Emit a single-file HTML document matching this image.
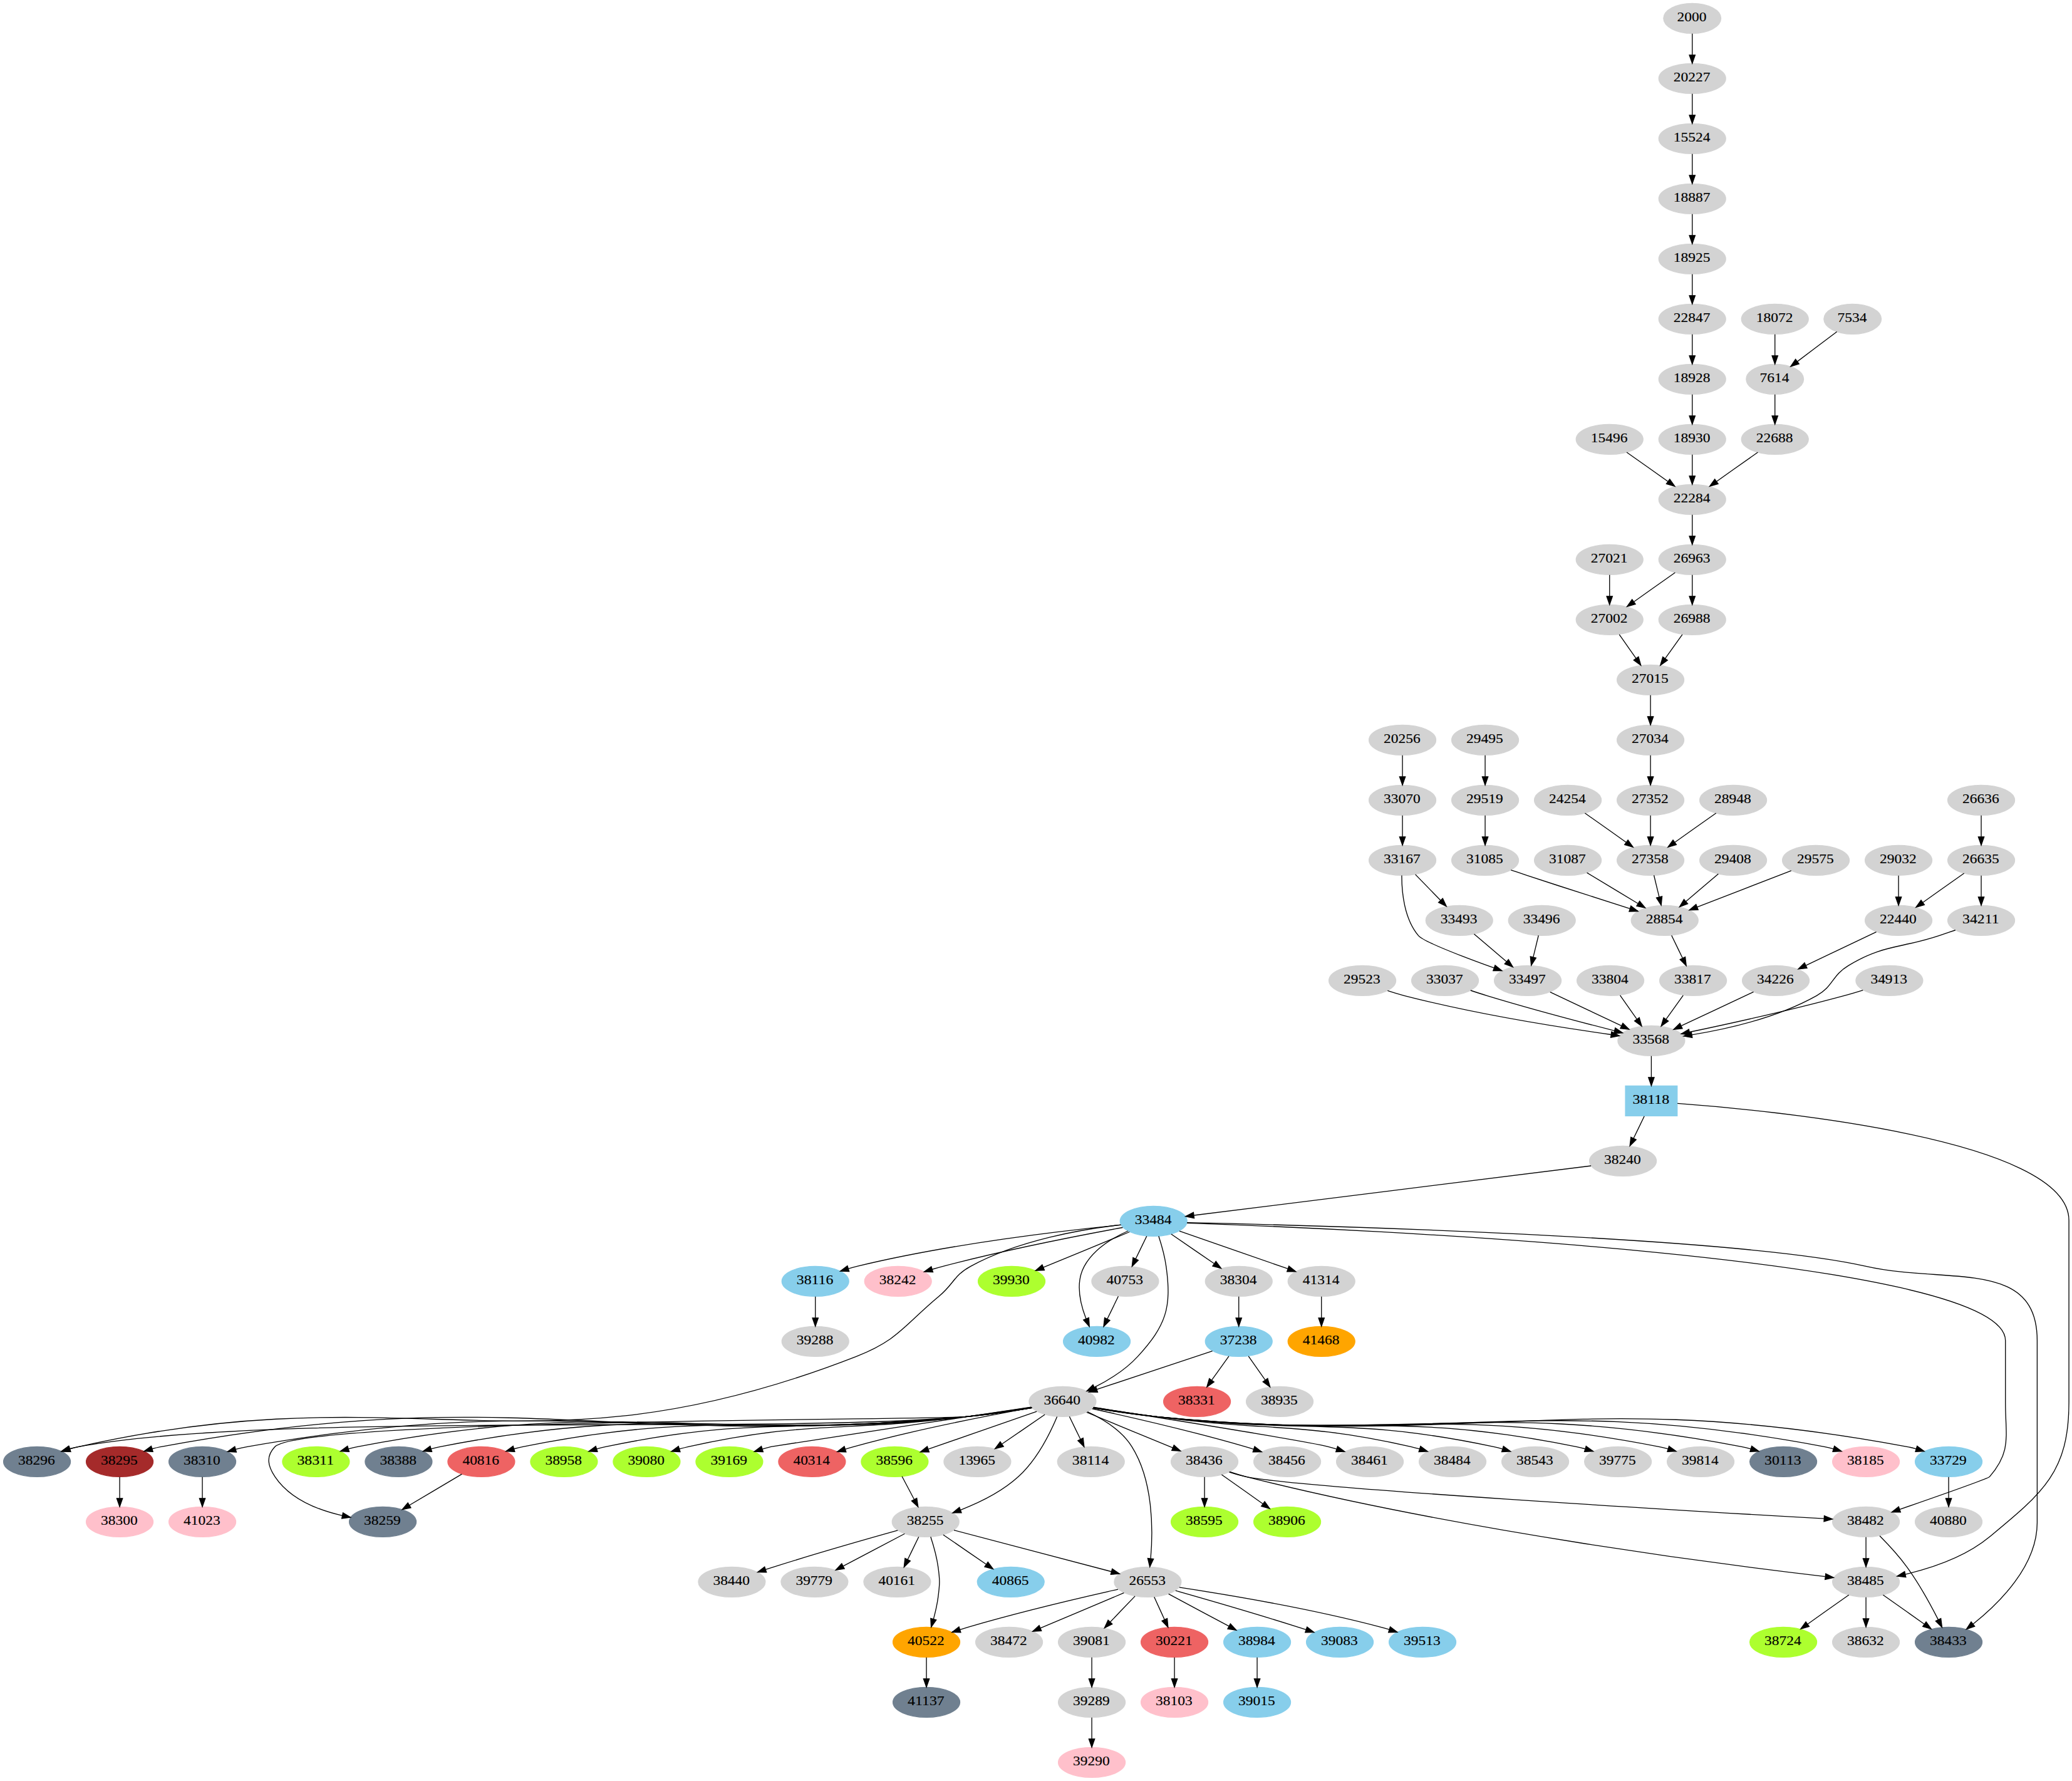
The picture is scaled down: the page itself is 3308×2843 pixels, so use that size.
<!DOCTYPE html>
<html><head><meta charset="utf-8"><style>
html,body{margin:0;padding:0;background:#fff;}
svg{display:block;}
</style></head><body>
<svg width="3308" height="2843" viewBox="0 0 2481 2132.25">
<g id="graph0" font-family="Liberation Serif" font-size="15.67" class="graph" transform="scale(1 1) rotate(0) translate(4 2128)">
<polygon fill="white" stroke="transparent" points="-4,4 -4,-2128 2477.3,-2128 2477.3,4 -4,4"/>
<g id="node1" class="node">
<ellipse fill="lightgray" stroke="lightgray" cx="2022.3" cy="-2106" rx="34.39" ry="18"/>
<text text-anchor="middle" x="2021.80" y="-2102.65" stroke="black" stroke-width="0.12" textLength="35.20" lengthAdjust="spacingAndGlyphs">2000</text>
</g>
<g id="node52" class="node">
<ellipse fill="lightgray" stroke="lightgray" cx="2022.3" cy="-2034" rx="40.09" ry="18"/>
<text text-anchor="middle" x="2021.80" y="-2030.65" stroke="black" stroke-width="0.12" textLength="44.00" lengthAdjust="spacingAndGlyphs">20227</text>
</g>
<g id="edge1" class="edge">
<path fill="none" stroke="black" d="M2022.3,-2087.7C2022.3,-2079.98 2022.3,-2070.71 2022.3,-2062.11"/>
<polygon fill="black" stroke="black" points="2025.8,-2062.1 2022.3,-2052.1 2018.8,-2062.1 2025.8,-2062.1"/>
</g>
<g id="node2" class="node">
<ellipse fill="lightgray" stroke="lightgray" cx="1972.3" cy="-1170" rx="40.09" ry="18"/>
<text text-anchor="middle" x="1971.80" y="-1166.65" stroke="black" stroke-width="0.12" textLength="44.00" lengthAdjust="spacingAndGlyphs">27352</text>
</g>
<g id="node34" class="node">
<ellipse fill="lightgray" stroke="lightgray" cx="1972.3" cy="-1098" rx="40.09" ry="18"/>
<text text-anchor="middle" x="1971.80" y="-1094.65" stroke="black" stroke-width="0.12" textLength="44.00" lengthAdjust="spacingAndGlyphs">27358</text>
</g>
<g id="edge27" class="edge">
<path fill="none" stroke="black" d="M1972.3,-1151.7C1972.3,-1143.98 1972.3,-1134.71 1972.3,-1126.11"/>
<polygon fill="black" stroke="black" points="1975.8,-1126.1 1972.3,-1116.1 1968.8,-1126.1 1975.8,-1126.1"/>
</g>
<g id="node3" class="node">
<ellipse fill="lightgray" stroke="lightgray" cx="2071.3" cy="-1098" rx="40.09" ry="18"/>
<text text-anchor="middle" x="2070.80" y="-1094.65" stroke="black" stroke-width="0.12" textLength="44.00" lengthAdjust="spacingAndGlyphs">29408</text>
</g>
<g id="node109" class="node">
<ellipse fill="lightgray" stroke="lightgray" cx="1989.3" cy="-1026" rx="40.09" ry="18"/>
<text text-anchor="middle" x="1988.80" y="-1022.65" stroke="black" stroke-width="0.12" textLength="44.00" lengthAdjust="spacingAndGlyphs">28854</text>
</g>
<g id="edge35" class="edge">
<path fill="none" stroke="black" d="M2053.5,-1081.81C2042.22,-1072.18 2027.44,-1059.56 2014.91,-1048.86"/>
<polygon fill="black" stroke="black" points="2016.93,-1045.99 2007.05,-1042.16 2012.39,-1051.31 2016.93,-1045.99"/>
</g>
<g id="node4" class="node">
<ellipse fill="slategray" stroke="slategray" cx="454.3" cy="-306" rx="40.09" ry="18"/>
<text text-anchor="middle" x="453.80" y="-302.65" stroke="black" stroke-width="0.12" textLength="44.00" lengthAdjust="spacingAndGlyphs">38259</text>
</g>
<g id="node5" class="node">
<ellipse fill="lightgray" stroke="lightgray" cx="1774.3" cy="-1170" rx="40.09" ry="18"/>
<text text-anchor="middle" x="1773.80" y="-1166.65" stroke="black" stroke-width="0.12" textLength="44.00" lengthAdjust="spacingAndGlyphs">29519</text>
</g>
<g id="node70" class="node">
<ellipse fill="lightgray" stroke="lightgray" cx="1774.3" cy="-1098" rx="40.09" ry="18"/>
<text text-anchor="middle" x="1773.80" y="-1094.65" stroke="black" stroke-width="0.12" textLength="44.00" lengthAdjust="spacingAndGlyphs">31085</text>
</g>
<g id="edge25" class="edge">
<path fill="none" stroke="black" d="M1774.3,-1151.7C1774.3,-1143.98 1774.3,-1134.71 1774.3,-1126.11"/>
<polygon fill="black" stroke="black" points="1777.8,-1126.1 1774.3,-1116.1 1770.8,-1126.1 1777.8,-1126.1"/>
</g>
<g id="node6" class="node">
<ellipse fill="skyblue" stroke="skyblue" cx="1699.3" cy="-162" rx="40.09" ry="18"/>
<text text-anchor="middle" x="1698.80" y="-158.65" stroke="black" stroke-width="0.12" textLength="44.00" lengthAdjust="spacingAndGlyphs">39513</text>
</g>
<g id="node7" class="node">
<ellipse fill="lightgray" stroke="lightgray" cx="2329.3" cy="-306" rx="40.09" ry="18"/>
<text text-anchor="middle" x="2328.80" y="-302.65" stroke="black" stroke-width="0.12" textLength="44.00" lengthAdjust="spacingAndGlyphs">40880</text>
</g>
<g id="node8" class="node">
<ellipse fill="lightgray" stroke="lightgray" cx="1924.3" cy="-954" rx="40.09" ry="18"/>
<text text-anchor="middle" x="1923.80" y="-950.65" stroke="black" stroke-width="0.12" textLength="44.00" lengthAdjust="spacingAndGlyphs">33804</text>
</g>
<g id="node13" class="node">
<ellipse fill="lightgray" stroke="lightgray" cx="1973.3" cy="-882" rx="40.09" ry="18"/>
<text text-anchor="middle" x="1972.80" y="-878.65" stroke="black" stroke-width="0.12" textLength="44.00" lengthAdjust="spacingAndGlyphs">33568</text>
</g>
<g id="edge47" class="edge">
<path fill="none" stroke="black" d="M1935.91,-936.41C1941.89,-927.87 1949.3,-917.28 1955.95,-907.79"/>
<polygon fill="black" stroke="black" points="1958.9,-909.67 1961.77,-899.47 1953.17,-905.66 1958.9,-909.67"/>
</g>
<g id="node9" class="node">
<ellipse fill="lightgray" stroke="lightgray" cx="1972.3" cy="-1242" rx="40.09" ry="18"/>
<text text-anchor="middle" x="1971.80" y="-1238.65" stroke="black" stroke-width="0.12" textLength="44.00" lengthAdjust="spacingAndGlyphs">27034</text>
</g>
<g id="edge23" class="edge">
<path fill="none" stroke="black" d="M1972.3,-1223.7C1972.3,-1215.98 1972.3,-1206.71 1972.3,-1198.11"/>
<polygon fill="black" stroke="black" points="1975.8,-1198.1 1972.3,-1188.1 1968.8,-1198.1 1975.8,-1198.1"/>
</g>
<g id="node10" class="node">
<ellipse fill="lightgray" stroke="lightgray" cx="1166.3" cy="-378" rx="40.09" ry="18"/>
<text text-anchor="middle" x="1165.80" y="-374.65" stroke="black" stroke-width="0.12" textLength="44.00" lengthAdjust="spacingAndGlyphs">13965</text>
</g>
<g id="node11" class="node">
<ellipse fill="lightgray" stroke="lightgray" cx="2269.3" cy="-1098" rx="40.09" ry="18"/>
<text text-anchor="middle" x="2268.80" y="-1094.65" stroke="black" stroke-width="0.12" textLength="44.00" lengthAdjust="spacingAndGlyphs">29032</text>
</g>
<g id="node74" class="node">
<ellipse fill="lightgray" stroke="lightgray" cx="2269.3" cy="-1026" rx="40.09" ry="18"/>
<text text-anchor="middle" x="2268.80" y="-1022.65" stroke="black" stroke-width="0.12" textLength="44.00" lengthAdjust="spacingAndGlyphs">22440</text>
</g>
<g id="edge37" class="edge">
<path fill="none" stroke="black" d="M2269.3,-1079.7C2269.3,-1071.98 2269.3,-1062.71 2269.3,-1054.11"/>
<polygon fill="black" stroke="black" points="2272.8,-1054.1 2269.3,-1044.1 2265.8,-1054.1 2272.8,-1054.1"/>
</g>
<g id="node12" class="node">
<ellipse fill="lightgray" stroke="lightgray" cx="2022.3" cy="-1674" rx="40.09" ry="18"/>
<text text-anchor="middle" x="2021.80" y="-1670.65" stroke="black" stroke-width="0.12" textLength="44.00" lengthAdjust="spacingAndGlyphs">18928</text>
</g>
<g id="node38" class="node">
<ellipse fill="lightgray" stroke="lightgray" cx="2022.3" cy="-1602" rx="40.09" ry="18"/>
<text text-anchor="middle" x="2021.80" y="-1598.65" stroke="black" stroke-width="0.12" textLength="44.00" lengthAdjust="spacingAndGlyphs">18930</text>
</g>
<g id="edge9" class="edge">
<path fill="none" stroke="black" d="M2022.3,-1655.7C2022.3,-1647.98 2022.3,-1638.71 2022.3,-1630.11"/>
<polygon fill="black" stroke="black" points="2025.8,-1630.1 2022.3,-1620.1 2018.8,-1630.1 2025.8,-1630.1"/>
</g>
<g id="node61" class="node">
<polygon fill="skyblue" stroke="skyblue" points="2004.3,-828 1942.3,-828 1942.3,-792 2004.3,-792 2004.3,-828"/>
<text text-anchor="middle" x="1972.80" y="-806.65" stroke="black" stroke-width="0.12" textLength="44.00" lengthAdjust="spacingAndGlyphs">38118</text>
</g>
<g id="edge52" class="edge">
<path fill="none" stroke="black" d="M1973.3,-863.7C1973.3,-855.98 1973.3,-846.71 1973.3,-838.11"/>
<polygon fill="black" stroke="black" points="1976.8,-838.1 1973.3,-828.1 1969.8,-838.1 1976.8,-838.1"/>
</g>
<g id="node14" class="node">
<ellipse fill="lightgray" stroke="lightgray" cx="1939.3" cy="-738" rx="40.09" ry="18"/>
<text text-anchor="middle" x="1938.80" y="-734.65" stroke="black" stroke-width="0.12" textLength="44.00" lengthAdjust="spacingAndGlyphs">38240</text>
</g>
<g id="node53" class="node">
<ellipse fill="skyblue" stroke="skyblue" cx="1377.3" cy="-666" rx="40.09" ry="18"/>
<text text-anchor="middle" x="1376.80" y="-662.65" stroke="black" stroke-width="0.12" textLength="44.00" lengthAdjust="spacingAndGlyphs">33484</text>
</g>
<g id="edge54" class="edge">
<path fill="none" stroke="black" d="M1901.11,-732.24C1801.79,-719.87 1535.48,-686.7 1425.66,-673.02"/>
<polygon fill="black" stroke="black" points="1425.89,-669.53 1415.54,-671.76 1425.03,-676.47 1425.89,-669.53"/>
</g>
<g id="node15" class="node">
<ellipse fill="pink" stroke="pink" cx="2230.3" cy="-378" rx="40.09" ry="18"/>
<text text-anchor="middle" x="2229.80" y="-374.65" stroke="black" stroke-width="0.12" textLength="44.00" lengthAdjust="spacingAndGlyphs">38185</text>
</g>
<g id="node16" class="node">
<ellipse fill="slategray" stroke="slategray" cx="40.3" cy="-378" rx="40.09" ry="18"/>
<text text-anchor="middle" x="39.80" y="-374.65" stroke="black" stroke-width="0.12" textLength="44.00" lengthAdjust="spacingAndGlyphs">38296</text>
</g>
<g id="node17" class="node">
<ellipse fill="lightgray" stroke="lightgray" cx="2121.3" cy="-1746" rx="40.09" ry="18"/>
<text text-anchor="middle" x="2120.80" y="-1742.65" stroke="black" stroke-width="0.12" textLength="44.00" lengthAdjust="spacingAndGlyphs">18072</text>
</g>
<g id="node85" class="node">
<ellipse fill="lightgray" stroke="lightgray" cx="2121.3" cy="-1674" rx="34.39" ry="18"/>
<text text-anchor="middle" x="2120.80" y="-1670.65" stroke="black" stroke-width="0.12" textLength="35.20" lengthAdjust="spacingAndGlyphs">7614</text>
</g>
<g id="edge7" class="edge">
<path fill="none" stroke="black" d="M2121.3,-1727.7C2121.3,-1719.98 2121.3,-1710.71 2121.3,-1702.11"/>
<polygon fill="black" stroke="black" points="2124.8,-1702.1 2121.3,-1692.1 2117.8,-1702.1 2124.8,-1702.1"/>
</g>
<g id="node18" class="node">
<ellipse fill="lightgray" stroke="lightgray" cx="1578.3" cy="-594" rx="40.09" ry="18"/>
<text text-anchor="middle" x="1577.80" y="-590.65" stroke="black" stroke-width="0.12" textLength="44.00" lengthAdjust="spacingAndGlyphs">41314</text>
</g>
<g id="node59" class="node">
<ellipse fill="orange" stroke="orange" cx="1578.3" cy="-522" rx="40.09" ry="18"/>
<text text-anchor="middle" x="1577.80" y="-518.65" stroke="black" stroke-width="0.12" textLength="44.00" lengthAdjust="spacingAndGlyphs">41468</text>
</g>
<g id="edge67" class="edge">
<path fill="none" stroke="black" d="M1578.3,-575.7C1578.3,-567.98 1578.3,-558.71 1578.3,-550.11"/>
<polygon fill="black" stroke="black" points="1581.8,-550.1 1578.3,-540.1 1574.8,-550.1 1581.8,-550.1"/>
</g>
<g id="node19" class="node">
<ellipse fill="skyblue" stroke="skyblue" cx="1501.3" cy="-162" rx="40.09" ry="18"/>
<text text-anchor="middle" x="1500.80" y="-158.65" stroke="black" stroke-width="0.12" textLength="44.00" lengthAdjust="spacingAndGlyphs">38984</text>
</g>
<g id="node26" class="node">
<ellipse fill="skyblue" stroke="skyblue" cx="1501.3" cy="-90" rx="40.09" ry="18"/>
<text text-anchor="middle" x="1500.80" y="-86.65" stroke="black" stroke-width="0.12" textLength="44.00" lengthAdjust="spacingAndGlyphs">39015</text>
</g>
<g id="edge130" class="edge">
<path fill="none" stroke="black" d="M1501.3,-143.7C1501.3,-135.98 1501.3,-126.71 1501.3,-118.11"/>
<polygon fill="black" stroke="black" points="1504.8,-118.1 1501.3,-108.1 1497.8,-118.1 1504.8,-118.1"/>
</g>
<g id="node20" class="node">
<ellipse fill="lightgray" stroke="lightgray" cx="2368.3" cy="-1026" rx="40.09" ry="18"/>
<text text-anchor="middle" x="2367.80" y="-1022.65" stroke="black" stroke-width="0.12" textLength="44.00" lengthAdjust="spacingAndGlyphs">34211</text>
</g>
<g id="edge50" class="edge">
<path fill="none" stroke="black" d="M2337.37,-1014.44C2331.06,-1012.3 2324.47,-1010.07 2318.3,-1008 2269.92,-991.79 2253.09,-998.17 2209.3,-972 2189.33,-960.07 2191.6,-947.36 2171.3,-936 2124.24,-909.68 2063.53,-895.95 2021.81,-889.13"/>
<polygon fill="black" stroke="black" points="2022.32,-885.66 2011.9,-887.58 2021.24,-892.58 2022.32,-885.66"/>
</g>
<g id="node21" class="node">
<ellipse fill="lightgray" stroke="lightgray" cx="1923.3" cy="-1386" rx="40.09" ry="18"/>
<text text-anchor="middle" x="1922.80" y="-1382.65" stroke="black" stroke-width="0.12" textLength="44.00" lengthAdjust="spacingAndGlyphs">27002</text>
</g>
<g id="node51" class="node">
<ellipse fill="lightgray" stroke="lightgray" cx="1972.3" cy="-1314" rx="40.09" ry="18"/>
<text text-anchor="middle" x="1971.80" y="-1310.65" stroke="black" stroke-width="0.12" textLength="44.00" lengthAdjust="spacingAndGlyphs">27015</text>
</g>
<g id="edge18" class="edge">
<path fill="none" stroke="black" d="M1934.91,-1368.41C1940.89,-1359.87 1948.3,-1349.28 1954.95,-1339.79"/>
<polygon fill="black" stroke="black" points="1957.9,-1341.67 1960.77,-1331.47 1952.17,-1337.66 1957.9,-1341.67"/>
</g>
<g id="node22" class="node">
<ellipse fill="lightgray" stroke="lightgray" cx="1933.3" cy="-378" rx="40.09" ry="18"/>
<text text-anchor="middle" x="1932.80" y="-374.65" stroke="black" stroke-width="0.12" textLength="44.00" lengthAdjust="spacingAndGlyphs">39775</text>
</g>
<g id="node23" class="node">
<ellipse fill="lightgray" stroke="lightgray" cx="872.3" cy="-234" rx="40.09" ry="18"/>
<text text-anchor="middle" x="871.80" y="-230.65" stroke="black" stroke-width="0.12" textLength="44.00" lengthAdjust="spacingAndGlyphs">38440</text>
</g>
<g id="node24" class="node">
<ellipse fill="#ee6363" stroke="#ee6363" cx="1429.3" cy="-450" rx="40.09" ry="18"/>
<text text-anchor="middle" x="1428.80" y="-446.65" stroke="black" stroke-width="0.12" textLength="44.00" lengthAdjust="spacingAndGlyphs">38331</text>
</g>
<g id="node25" class="node">
<ellipse fill="lightgray" stroke="lightgray" cx="1303.3" cy="-162" rx="40.09" ry="18"/>
<text text-anchor="middle" x="1302.80" y="-158.65" stroke="black" stroke-width="0.12" textLength="44.00" lengthAdjust="spacingAndGlyphs">39081</text>
</g>
<g id="node64" class="node">
<ellipse fill="lightgray" stroke="lightgray" cx="1303.3" cy="-90" rx="40.09" ry="18"/>
<text text-anchor="middle" x="1302.80" y="-86.65" stroke="black" stroke-width="0.12" textLength="44.00" lengthAdjust="spacingAndGlyphs">39289</text>
</g>
<g id="edge128" class="edge">
<path fill="none" stroke="black" d="M1303.3,-143.7C1303.3,-135.98 1303.3,-126.71 1303.3,-118.11"/>
<polygon fill="black" stroke="black" points="1306.8,-118.1 1303.3,-108.1 1299.8,-118.1 1306.8,-118.1"/>
</g>
<g id="node27" class="node">
<ellipse fill="greenyellow" stroke="greenyellow" cx="770.3" cy="-378" rx="40.09" ry="18"/>
<text text-anchor="middle" x="769.80" y="-374.65" stroke="black" stroke-width="0.12" textLength="44.00" lengthAdjust="spacingAndGlyphs">39080</text>
</g>
<g id="node28" class="node">
<ellipse fill="lightgray" stroke="lightgray" cx="2071.3" cy="-1170" rx="40.09" ry="18"/>
<text text-anchor="middle" x="2070.80" y="-1166.65" stroke="black" stroke-width="0.12" textLength="44.00" lengthAdjust="spacingAndGlyphs">28948</text>
</g>
<g id="edge28" class="edge">
<path fill="none" stroke="black" d="M2050.78,-1154.5C2036.54,-1144.43 2017.36,-1130.86 2001.52,-1119.67"/>
<polygon fill="black" stroke="black" points="2003.31,-1116.64 1993.12,-1113.73 1999.27,-1122.36 2003.31,-1116.64"/>
</g>
<g id="node29" class="node">
<ellipse fill="slategray" stroke="slategray" cx="2329.3" cy="-162" rx="40.09" ry="18"/>
<text text-anchor="middle" x="2328.80" y="-158.65" stroke="black" stroke-width="0.12" textLength="44.00" lengthAdjust="spacingAndGlyphs">38433</text>
</g>
<g id="node30" class="node">
<ellipse fill="lightgray" stroke="lightgray" cx="1774.3" cy="-1242" rx="40.09" ry="18"/>
<text text-anchor="middle" x="1773.80" y="-1238.65" stroke="black" stroke-width="0.12" textLength="44.00" lengthAdjust="spacingAndGlyphs">29495</text>
</g>
<g id="edge22" class="edge">
<path fill="none" stroke="black" d="M1774.3,-1223.7C1774.3,-1215.98 1774.3,-1206.71 1774.3,-1198.11"/>
<polygon fill="black" stroke="black" points="1777.8,-1198.1 1774.3,-1188.1 1770.8,-1198.1 1777.8,-1198.1"/>
</g>
<g id="node31" class="node">
<ellipse fill="lightgray" stroke="lightgray" cx="972.3" cy="-522" rx="40.09" ry="18"/>
<text text-anchor="middle" x="971.80" y="-518.65" stroke="black" stroke-width="0.12" textLength="44.00" lengthAdjust="spacingAndGlyphs">39288</text>
</g>
<g id="node32" class="node">
<ellipse fill="greenyellow" stroke="greenyellow" cx="1067.3" cy="-378" rx="40.09" ry="18"/>
<text text-anchor="middle" x="1066.80" y="-374.65" stroke="black" stroke-width="0.12" textLength="44.00" lengthAdjust="spacingAndGlyphs">38596</text>
</g>
<g id="node47" class="node">
<ellipse fill="lightgray" stroke="lightgray" cx="1104.3" cy="-306" rx="40.09" ry="18"/>
<text text-anchor="middle" x="1103.80" y="-302.65" stroke="black" stroke-width="0.12" textLength="44.00" lengthAdjust="spacingAndGlyphs">38255</text>
</g>
<g id="edge87" class="edge">
<path fill="none" stroke="black" d="M1076.06,-360.41C1080.38,-352.25 1085.68,-342.22 1090.52,-333.07"/>
<polygon fill="black" stroke="black" points="1093.76,-334.43 1095.33,-323.96 1087.57,-331.16 1093.76,-334.43"/>
</g>
<g id="node33" class="node">
<ellipse fill="lightgray" stroke="lightgray" cx="1537.3" cy="-378" rx="40.09" ry="18"/>
<text text-anchor="middle" x="1536.80" y="-374.65" stroke="black" stroke-width="0.12" textLength="44.00" lengthAdjust="spacingAndGlyphs">38456</text>
</g>
<g id="edge34" class="edge">
<path fill="none" stroke="black" d="M1976.41,-1080.05C1978.3,-1072.26 1980.6,-1062.82 1982.72,-1054.08"/>
<polygon fill="black" stroke="black" points="1986.14,-1054.82 1985.1,-1044.28 1979.34,-1053.17 1986.14,-1054.82"/>
</g>
<g id="node35" class="node">
<ellipse fill="lightgray" stroke="lightgray" cx="1726.3" cy="-954" rx="40.09" ry="18"/>
<text text-anchor="middle" x="1725.80" y="-950.65" stroke="black" stroke-width="0.12" textLength="44.00" lengthAdjust="spacingAndGlyphs">33037</text>
</g>
<g id="edge45" class="edge">
<path fill="none" stroke="black" d="M1756.87,-942.25C1763.26,-940.11 1769.98,-937.92 1776.3,-936 1828.46,-920.13 1889.13,-904.18 1929.21,-893.99"/>
<polygon fill="black" stroke="black" points="1930.1,-897.37 1938.94,-891.52 1928.39,-890.59 1930.1,-897.37"/>
</g>
<g id="node36" class="node">
<ellipse fill="lightgray" stroke="lightgray" cx="2230.3" cy="-162" rx="40.09" ry="18"/>
<text text-anchor="middle" x="2229.80" y="-158.65" stroke="black" stroke-width="0.12" textLength="44.00" lengthAdjust="spacingAndGlyphs">38632</text>
</g>
<g id="node37" class="node">
<ellipse fill="skyblue" stroke="skyblue" cx="1206.3" cy="-234" rx="40.09" ry="18"/>
<text text-anchor="middle" x="1205.80" y="-230.65" stroke="black" stroke-width="0.12" textLength="44.00" lengthAdjust="spacingAndGlyphs">40865</text>
</g>
<g id="node69" class="node">
<ellipse fill="lightgray" stroke="lightgray" cx="2022.3" cy="-1530" rx="40.09" ry="18"/>
<text text-anchor="middle" x="2021.80" y="-1526.65" stroke="black" stroke-width="0.12" textLength="44.00" lengthAdjust="spacingAndGlyphs">22284</text>
</g>
<g id="edge12" class="edge">
<path fill="none" stroke="black" d="M2022.3,-1583.7C2022.3,-1575.98 2022.3,-1566.71 2022.3,-1558.11"/>
<polygon fill="black" stroke="black" points="2025.8,-1558.1 2022.3,-1548.1 2018.8,-1558.1 2025.8,-1558.1"/>
</g>
<g id="node39" class="node">
<ellipse fill="orange" stroke="orange" cx="1105.3" cy="-162" rx="40.09" ry="18"/>
<text text-anchor="middle" x="1104.80" y="-158.65" stroke="black" stroke-width="0.12" textLength="44.00" lengthAdjust="spacingAndGlyphs">40522</text>
</g>
<g id="node112" class="node">
<ellipse fill="slategray" stroke="slategray" cx="1105.3" cy="-90" rx="40.09" ry="18"/>
<text text-anchor="middle" x="1104.80" y="-86.65" stroke="black" stroke-width="0.12" textLength="44.00" lengthAdjust="spacingAndGlyphs">41137</text>
</g>
<g id="edge127" class="edge">
<path fill="none" stroke="black" d="M1105.3,-143.7C1105.3,-135.98 1105.3,-126.71 1105.3,-118.11"/>
<polygon fill="black" stroke="black" points="1108.8,-118.1 1105.3,-108.1 1101.8,-118.1 1108.8,-118.1"/>
</g>
<g id="node40" class="node">
<ellipse fill="greenyellow" stroke="greenyellow" cx="374.3" cy="-378" rx="40.09" ry="18"/>
<text text-anchor="middle" x="373.80" y="-374.65" stroke="black" stroke-width="0.12" textLength="44.00" lengthAdjust="spacingAndGlyphs">38311</text>
</g>
<g id="node41" class="node">
<ellipse fill="lightgray" stroke="lightgray" cx="971.3" cy="-234" rx="40.09" ry="18"/>
<text text-anchor="middle" x="970.80" y="-230.65" stroke="black" stroke-width="0.12" textLength="44.00" lengthAdjust="spacingAndGlyphs">39779</text>
</g>
<g id="node42" class="node">
<ellipse fill="lightgray" stroke="lightgray" cx="2230.3" cy="-234" rx="40.09" ry="18"/>
<text text-anchor="middle" x="2229.80" y="-230.65" stroke="black" stroke-width="0.12" textLength="44.00" lengthAdjust="spacingAndGlyphs">38485</text>
</g>
<g id="edge124" class="edge">
<path fill="none" stroke="black" d="M2250.81,-218.5C2265.05,-208.43 2284.23,-194.86 2300.07,-183.67"/>
<polygon fill="black" stroke="black" points="2302.32,-186.36 2308.47,-177.73 2298.28,-180.64 2302.32,-186.36"/>
</g>
<g id="edge123" class="edge">
<path fill="none" stroke="black" d="M2230.3,-215.7C2230.3,-207.98 2230.3,-198.71 2230.3,-190.11"/>
<polygon fill="black" stroke="black" points="2233.8,-190.1 2230.3,-180.1 2226.8,-190.1 2233.8,-190.1"/>
</g>
<g id="node96" class="node">
<ellipse fill="greenyellow" stroke="greenyellow" cx="2131.3" cy="-162" rx="40.09" ry="18"/>
<text text-anchor="middle" x="2130.80" y="-158.65" stroke="black" stroke-width="0.12" textLength="44.00" lengthAdjust="spacingAndGlyphs">38724</text>
</g>
<g id="edge122" class="edge">
<path fill="none" stroke="black" d="M2209.78,-218.5C2195.54,-208.43 2176.36,-194.86 2160.52,-183.67"/>
<polygon fill="black" stroke="black" points="2162.31,-180.64 2152.12,-177.73 2158.27,-186.36 2162.31,-180.64"/>
</g>
<g id="node43" class="node">
<ellipse fill="greenyellow" stroke="greenyellow" cx="1207.3" cy="-594" rx="40.09" ry="18"/>
<text text-anchor="middle" x="1206.80" y="-590.65" stroke="black" stroke-width="0.12" textLength="44.00" lengthAdjust="spacingAndGlyphs">39930</text>
</g>
<g id="node44" class="node">
<ellipse fill="#ee6363" stroke="#ee6363" cx="968.3" cy="-378" rx="40.09" ry="18"/>
<text text-anchor="middle" x="967.80" y="-374.65" stroke="black" stroke-width="0.12" textLength="44.00" lengthAdjust="spacingAndGlyphs">40314</text>
</g>
<g id="node45" class="node">
<ellipse fill="greenyellow" stroke="greenyellow" cx="869.3" cy="-378" rx="40.09" ry="18"/>
<text text-anchor="middle" x="868.80" y="-374.65" stroke="black" stroke-width="0.12" textLength="44.00" lengthAdjust="spacingAndGlyphs">39169</text>
</g>
<g id="node46" class="node">
<ellipse fill="pink" stroke="pink" cx="139.3" cy="-306" rx="40.09" ry="18"/>
<text text-anchor="middle" x="138.80" y="-302.65" stroke="black" stroke-width="0.12" textLength="44.00" lengthAdjust="spacingAndGlyphs">38300</text>
</g>
<g id="edge96" class="edge">
<path fill="none" stroke="black" d="M1070.95,-295.77C1034.35,-285.53 973.93,-268.29 922.3,-252 919.19,-251.02 915.99,-249.99 912.77,-248.93"/>
<polygon fill="black" stroke="black" points="913.76,-245.57 903.17,-245.73 911.55,-252.21 913.76,-245.57"/>
</g>
<g id="edge100" class="edge">
<path fill="none" stroke="black" d="M1125.43,-290.5C1140.2,-280.36 1160.13,-266.68 1176.51,-255.44"/>
<polygon fill="black" stroke="black" points="1178.92,-258.03 1185.19,-249.49 1174.96,-252.26 1178.92,-258.03"/>
</g>
<g id="edge99" class="edge">
<path fill="none" stroke="black" d="M1110.38,-288.07C1113.75,-277.79 1117.59,-264.31 1119.3,-252 1121.5,-236.15 1121.36,-231.87 1119.3,-216 1118.16,-207.28 1116.02,-197.95 1113.75,-189.58"/>
<polygon fill="black" stroke="black" points="1117.11,-188.6 1110.97,-179.96 1110.39,-190.54 1117.11,-188.6"/>
</g>
<g id="edge97" class="edge">
<path fill="none" stroke="black" d="M1079.28,-291.83C1058.51,-280.9 1028.76,-265.24 1005.74,-253.13"/>
<polygon fill="black" stroke="black" points="1007.13,-249.91 996.65,-248.35 1003.87,-256.1 1007.13,-249.91"/>
</g>
<g id="node72" class="node">
<ellipse fill="lightgray" stroke="lightgray" cx="1370.3" cy="-234" rx="40.09" ry="18"/>
<text text-anchor="middle" x="1369.80" y="-230.65" stroke="black" stroke-width="0.12" textLength="44.00" lengthAdjust="spacingAndGlyphs">26553</text>
</g>
<g id="edge101" class="edge">
<path fill="none" stroke="black" d="M1138.26,-296.06C1186.28,-283.42 1274.06,-260.33 1326.8,-246.45"/>
<polygon fill="black" stroke="black" points="1327.76,-249.81 1336.54,-243.88 1325.98,-243.04 1327.76,-249.81"/>
</g>
<g id="node102" class="node">
<ellipse fill="lightgray" stroke="lightgray" cx="1070.3" cy="-234" rx="40.09" ry="18"/>
<text text-anchor="middle" x="1069.80" y="-230.65" stroke="black" stroke-width="0.12" textLength="44.00" lengthAdjust="spacingAndGlyphs">40161</text>
</g>
<g id="edge98" class="edge">
<path fill="none" stroke="black" d="M1096.07,-288.05C1092.1,-279.89 1087.25,-269.91 1082.84,-260.82"/>
<polygon fill="black" stroke="black" points="1085.97,-259.25 1078.45,-251.79 1079.67,-262.31 1085.97,-259.25"/>
</g>
<g id="node48" class="node">
<ellipse fill="lightgray" stroke="lightgray" cx="1204.3" cy="-162" rx="40.09" ry="18"/>
<text text-anchor="middle" x="1203.80" y="-158.65" stroke="black" stroke-width="0.12" textLength="44.00" lengthAdjust="spacingAndGlyphs">38472</text>
</g>
<g id="node49" class="node">
<ellipse fill="lightgray" stroke="lightgray" cx="1743.3" cy="-1026" rx="40.09" ry="18"/>
<text text-anchor="middle" x="1742.80" y="-1022.65" stroke="black" stroke-width="0.12" textLength="44.00" lengthAdjust="spacingAndGlyphs">33493</text>
</g>
<g id="node75" class="node">
<ellipse fill="lightgray" stroke="lightgray" cx="1825.3" cy="-954" rx="40.09" ry="18"/>
<text text-anchor="middle" x="1824.80" y="-950.65" stroke="black" stroke-width="0.12" textLength="44.00" lengthAdjust="spacingAndGlyphs">33497</text>
</g>
<g id="edge40" class="edge">
<path fill="none" stroke="black" d="M1761.09,-1009.81C1772.37,-1000.18 1787.15,-987.56 1799.68,-976.86"/>
<polygon fill="black" stroke="black" points="1802.21,-979.31 1807.54,-970.16 1797.66,-973.99 1802.21,-979.31"/>
</g>
<g id="node50" class="node">
<ellipse fill="skyblue" stroke="skyblue" cx="972.3" cy="-594" rx="40.09" ry="18"/>
<text text-anchor="middle" x="971.80" y="-590.65" stroke="black" stroke-width="0.12" textLength="44.00" lengthAdjust="spacingAndGlyphs">38116</text>
</g>
<g id="edge64" class="edge">
<path fill="none" stroke="black" d="M972.3,-575.7C972.3,-567.98 972.3,-558.71 972.3,-550.11"/>
<polygon fill="black" stroke="black" points="975.8,-550.1 972.3,-540.1 968.8,-550.1 975.8,-550.1"/>
</g>
<g id="edge20" class="edge">
<path fill="none" stroke="black" d="M1972.3,-1295.7C1972.3,-1287.98 1972.3,-1278.71 1972.3,-1270.11"/>
<polygon fill="black" stroke="black" points="1975.8,-1270.1 1972.3,-1260.1 1968.8,-1270.1 1975.8,-1270.1"/>
</g>
<g id="node108" class="node">
<ellipse fill="lightgray" stroke="lightgray" cx="2022.3" cy="-1962" rx="40.09" ry="18"/>
<text text-anchor="middle" x="2021.80" y="-1958.65" stroke="black" stroke-width="0.12" textLength="44.00" lengthAdjust="spacingAndGlyphs">15524</text>
</g>
<g id="edge2" class="edge">
<path fill="none" stroke="black" d="M2022.3,-2015.7C2022.3,-2007.98 2022.3,-1998.71 2022.3,-1990.11"/>
<polygon fill="black" stroke="black" points="2025.8,-1990.1 2022.3,-1980.1 2018.8,-1990.1 2025.8,-1990.1"/>
</g>
<g id="edge57" class="edge">
<path fill="none" stroke="black" d="M1337.92,-661.64C1292.31,-656.4 1216.04,-643.39 1158.3,-612 1137.86,-600.89 1138.19,-590.87 1120.3,-576 1078.46,-541.22 1071.98,-523.78 1021.3,-504 633.26,-352.54 496.66,-487.56 90.3,-396 86.88,-395.23 83.38,-394.31 79.88,-393.31"/>
<polygon fill="black" stroke="black" points="80.73,-389.91 70.14,-390.3 78.66,-396.6 80.73,-389.91"/>
</g>
<g id="edge63" class="edge">
<path fill="none" stroke="black" d="M1408.26,-654.22C1443.04,-642.11 1499.6,-622.41 1537.84,-609.09"/>
<polygon fill="black" stroke="black" points="1539.33,-612.28 1547.63,-605.68 1537.03,-605.67 1539.33,-612.28"/>
</g>
<g id="edge126" class="edge">
<path fill="none" stroke="black" d="M1417.42,-664.22C1564.33,-661.08 2072.49,-647.82 2230.3,-612 2327.16,-590.01 2435.3,-622.33 2435.3,-523 2435.3,-523 2435.3,-523 2435.3,-305 2435.3,-253.46 2389.9,-208.57 2358.53,-183.69"/>
<polygon fill="black" stroke="black" points="2360.55,-180.83 2350.49,-177.51 2356.28,-186.38 2360.55,-180.83"/>
</g>
<g id="edge58" class="edge">
<path fill="none" stroke="black" d="M1348.46,-653.13C1320.04,-641.42 1276.47,-623.48 1245.25,-610.63"/>
<polygon fill="black" stroke="black" points="1246.57,-607.39 1235.99,-606.82 1243.91,-613.86 1246.57,-607.39"/>
</g>
<g id="edge55" class="edge">
<path fill="none" stroke="black" d="M1338.25,-661.49C1272.4,-655.05 1135.39,-639.43 1022.3,-612 1018.9,-611.18 1015.4,-610.22 1011.91,-609.19"/>
<polygon fill="black" stroke="black" points="1012.77,-605.79 1002.18,-606.13 1010.67,-612.47 1012.77,-605.79"/>
</g>
<g id="node56" class="node">
<ellipse fill="lightgray" stroke="lightgray" cx="2230.3" cy="-306" rx="40.09" ry="18"/>
<text text-anchor="middle" x="2229.80" y="-302.65" stroke="black" stroke-width="0.12" textLength="44.00" lengthAdjust="spacingAndGlyphs">38482</text>
</g>
<g id="edge94" class="edge">
<path fill="none" stroke="black" d="M1417.28,-663.73C1605.86,-657.2 2397.3,-623.79 2397.3,-523 2397.3,-523 2397.3,-523 2397.3,-449 2397.3,-408.55 2404.92,-390.44 2378.3,-360 2376.42,-357.86 2314.02,-335.96 2270.85,-320.99"/>
<polygon fill="black" stroke="black" points="2271.74,-317.59 2261.15,-317.63 2269.45,-324.21 2271.74,-317.59"/>
</g>
<g id="node57" class="node">
<ellipse fill="lightgray" stroke="lightgray" cx="1479.3" cy="-594" rx="40.09" ry="18"/>
<text text-anchor="middle" x="1478.80" y="-590.65" stroke="black" stroke-width="0.12" textLength="44.00" lengthAdjust="spacingAndGlyphs">38304</text>
</g>
<g id="edge62" class="edge">
<path fill="none" stroke="black" d="M1398.43,-650.5C1413.2,-640.36 1433.13,-626.68 1449.51,-615.44"/>
<polygon fill="black" stroke="black" points="1451.92,-618.03 1458.19,-609.49 1447.96,-612.26 1451.92,-618.03"/>
</g>
<g id="node88" class="node">
<ellipse fill="lightgray" stroke="lightgray" cx="1268.3" cy="-450" rx="40.09" ry="18"/>
<text text-anchor="middle" x="1267.80" y="-446.65" stroke="black" stroke-width="0.12" textLength="44.00" lengthAdjust="spacingAndGlyphs">36640</text>
</g>
<g id="edge61" class="edge">
<path fill="none" stroke="black" d="M1383.38,-648.07C1386.75,-637.79 1390.59,-624.31 1392.3,-612 1399.21,-562.16 1392.22,-541.17 1358.3,-504 1344.06,-488.41 1324.16,-476.03 1306.69,-467.18"/>
<polygon fill="black" stroke="black" points="1307.81,-463.83 1297.28,-462.62 1304.75,-470.13 1307.81,-463.83"/>
</g>
<g id="node92" class="node">
<ellipse fill="skyblue" stroke="skyblue" cx="1309.3" cy="-522" rx="40.09" ry="18"/>
<text text-anchor="middle" x="1308.80" y="-518.65" stroke="black" stroke-width="0.12" textLength="44.00" lengthAdjust="spacingAndGlyphs">40982</text>
</g>
<g id="edge59" class="edge">
<path fill="none" stroke="black" d="M1346.63,-654.24C1327.86,-645.87 1305.39,-632.24 1294.3,-612 1283.7,-592.66 1289.29,-567.7 1296.46,-549.13"/>
<polygon fill="black" stroke="black" points="1299.73,-550.38 1300.4,-539.81 1293.29,-547.66 1299.73,-550.38"/>
</g>
<g id="node97" class="node">
<ellipse fill="lightgray" stroke="lightgray" cx="1343.3" cy="-594" rx="40.09" ry="18"/>
<text text-anchor="middle" x="1342.80" y="-590.65" stroke="black" stroke-width="0.12" textLength="44.00" lengthAdjust="spacingAndGlyphs">40753</text>
</g>
<g id="edge60" class="edge">
<path fill="none" stroke="black" d="M1369.07,-648.05C1365.1,-639.89 1360.25,-629.91 1355.84,-620.82"/>
<polygon fill="black" stroke="black" points="1358.97,-619.25 1351.45,-611.79 1352.67,-622.31 1358.97,-619.25"/>
</g>
<g id="node114" class="node">
<ellipse fill="pink" stroke="pink" cx="1071.3" cy="-594" rx="40.09" ry="18"/>
<text text-anchor="middle" x="1070.80" y="-590.65" stroke="black" stroke-width="0.12" textLength="44.00" lengthAdjust="spacingAndGlyphs">38242</text>
</g>
<g id="edge56" class="edge">
<path fill="none" stroke="black" d="M1340.31,-658.39C1290.95,-649.31 1200.98,-631.82 1125.3,-612 1121.01,-610.88 1116.56,-609.62 1112.13,-608.32"/>
<polygon fill="black" stroke="black" points="1113.14,-604.97 1102.56,-605.41 1111.11,-611.66 1113.14,-604.97"/>
</g>
<g id="node54" class="node">
<ellipse fill="lightgray" stroke="lightgray" cx="2022.3" cy="-1458" rx="40.09" ry="18"/>
<text text-anchor="middle" x="2021.80" y="-1454.65" stroke="black" stroke-width="0.12" textLength="44.00" lengthAdjust="spacingAndGlyphs">26963</text>
</g>
<g id="edge16" class="edge">
<path fill="none" stroke="black" d="M2001.78,-1442.5C1987.54,-1432.43 1968.36,-1418.86 1952.52,-1407.67"/>
<polygon fill="black" stroke="black" points="1954.31,-1404.64 1944.12,-1401.73 1950.27,-1410.36 1954.31,-1404.64"/>
</g>
<g id="node89" class="node">
<ellipse fill="lightgray" stroke="lightgray" cx="2022.3" cy="-1386" rx="40.09" ry="18"/>
<text text-anchor="middle" x="2021.80" y="-1382.65" stroke="black" stroke-width="0.12" textLength="44.00" lengthAdjust="spacingAndGlyphs">26988</text>
</g>
<g id="edge17" class="edge">
<path fill="none" stroke="black" d="M2022.3,-1439.7C2022.3,-1431.98 2022.3,-1422.71 2022.3,-1414.11"/>
<polygon fill="black" stroke="black" points="2025.8,-1414.1 2022.3,-1404.1 2018.8,-1414.1 2025.8,-1414.1"/>
</g>
<g id="node55" class="node">
<ellipse fill="lightgray" stroke="lightgray" cx="1675.3" cy="-1170" rx="40.09" ry="18"/>
<text text-anchor="middle" x="1674.80" y="-1166.65" stroke="black" stroke-width="0.12" textLength="44.00" lengthAdjust="spacingAndGlyphs">33070</text>
</g>
<g id="node60" class="node">
<ellipse fill="lightgray" stroke="lightgray" cx="1675.3" cy="-1098" rx="40.09" ry="18"/>
<text text-anchor="middle" x="1674.80" y="-1094.65" stroke="black" stroke-width="0.12" textLength="44.00" lengthAdjust="spacingAndGlyphs">33167</text>
</g>
<g id="edge24" class="edge">
<path fill="none" stroke="black" d="M1675.3,-1151.7C1675.3,-1143.98 1675.3,-1134.71 1675.3,-1126.11"/>
<polygon fill="black" stroke="black" points="1678.8,-1126.1 1675.3,-1116.1 1671.8,-1126.1 1678.8,-1126.1"/>
</g>
<g id="edge125" class="edge">
<path fill="none" stroke="black" d="M2246.8,-289.16C2256.84,-279.05 2269.56,-265.38 2279.3,-252 2293.88,-231.96 2307.45,-207.25 2316.77,-188.96"/>
<polygon fill="black" stroke="black" points="2320.01,-190.29 2321.36,-179.78 2313.75,-187.16 2320.01,-190.29"/>
</g>
<g id="edge113" class="edge">
<path fill="none" stroke="black" d="M2230.3,-287.7C2230.3,-279.98 2230.3,-270.71 2230.3,-262.11"/>
<polygon fill="black" stroke="black" points="2233.8,-262.1 2230.3,-252.1 2226.8,-262.1 2233.8,-262.1"/>
</g>
<g id="node58" class="node">
<ellipse fill="skyblue" stroke="skyblue" cx="1479.3" cy="-522" rx="40.09" ry="18"/>
<text text-anchor="middle" x="1478.80" y="-518.65" stroke="black" stroke-width="0.12" textLength="44.00" lengthAdjust="spacingAndGlyphs">37238</text>
</g>
<g id="edge66" class="edge">
<path fill="none" stroke="black" d="M1479.3,-575.7C1479.3,-567.98 1479.3,-558.71 1479.3,-550.11"/>
<polygon fill="black" stroke="black" points="1482.8,-550.1 1479.3,-540.1 1475.8,-550.1 1482.8,-550.1"/>
</g>
<g id="edge69" class="edge">
<path fill="none" stroke="black" d="M1467.45,-504.41C1461.34,-495.87 1453.78,-485.28 1447,-475.79"/>
<polygon fill="black" stroke="black" points="1449.72,-473.57 1441.06,-467.47 1444.03,-477.64 1449.72,-473.57"/>
</g>
<g id="edge68" class="edge">
<path fill="none" stroke="black" d="M1447.71,-510.52C1410.85,-498.29 1349.82,-478.04 1309.33,-464.61"/>
<polygon fill="black" stroke="black" points="1310.35,-461.26 1299.76,-461.44 1308.15,-467.91 1310.35,-461.26"/>
</g>
<g id="node111" class="node">
<ellipse fill="lightgray" stroke="lightgray" cx="1528.3" cy="-450" rx="40.09" ry="18"/>
<text text-anchor="middle" x="1527.80" y="-446.65" stroke="black" stroke-width="0.12" textLength="44.00" lengthAdjust="spacingAndGlyphs">38935</text>
</g>
<g id="edge70" class="edge">
<path fill="none" stroke="black" d="M1490.91,-504.41C1496.89,-495.87 1504.3,-485.28 1510.95,-475.79"/>
<polygon fill="black" stroke="black" points="1513.9,-477.67 1516.77,-467.47 1508.17,-473.66 1513.9,-477.67"/>
</g>
<g id="edge31" class="edge">
<path fill="none" stroke="black" d="M1690.73,-1081.12C1699.59,-1071.99 1710.89,-1060.36 1720.74,-1050.22"/>
<polygon fill="black" stroke="black" points="1723.47,-1052.43 1727.93,-1042.82 1718.45,-1047.56 1723.47,-1052.43"/>
</g>
<g id="edge30" class="edge">
<path fill="none" stroke="black" d="M1674.44,-1079.89C1674.38,-1060.31 1677.23,-1028.33 1694.3,-1008 1700.5,-1000.61 1748.49,-982.31 1784.6,-969.28"/>
<polygon fill="black" stroke="black" points="1786.2,-972.43 1794.43,-965.76 1783.84,-965.84 1786.2,-972.43"/>
</g>
<g id="edge53" class="edge">
<path fill="none" stroke="black" d="M1964.89,-791.7C1961.02,-783.73 1956.34,-774.1 1952.05,-765.26"/>
<polygon fill="black" stroke="black" points="1955.12,-763.57 1947.6,-756.1 1948.83,-766.63 1955.12,-763.57"/>
</g>
<g id="edge114" class="edge">
<path fill="none" stroke="black" d="M2004.57,-806.93C2114.04,-798.86 2473.3,-764.91 2473.3,-667 2473.3,-667 2473.3,-667 2473.3,-449 2473.3,-365.92 2442.33,-340.94 2378.3,-288 2349.35,-264.07 2308.76,-250.55 2277.41,-243.17"/>
<polygon fill="black" stroke="black" points="2278.1,-239.74 2267.58,-240.98 2276.58,-246.57 2278.1,-239.74"/>
</g>
<g id="node62" class="node">
<ellipse fill="lightgray" stroke="lightgray" cx="1923.3" cy="-1458" rx="40.09" ry="18"/>
<text text-anchor="middle" x="1922.80" y="-1454.65" stroke="black" stroke-width="0.12" textLength="44.00" lengthAdjust="spacingAndGlyphs">27021</text>
</g>
<g id="edge15" class="edge">
<path fill="none" stroke="black" d="M1923.3,-1439.7C1923.3,-1431.98 1923.3,-1422.71 1923.3,-1414.11"/>
<polygon fill="black" stroke="black" points="1926.8,-1414.1 1923.3,-1404.1 1919.8,-1414.1 1926.8,-1414.1"/>
</g>
<g id="node63" class="node">
<ellipse fill="lightgray" stroke="lightgray" cx="1302.3" cy="-378" rx="40.09" ry="18"/>
<text text-anchor="middle" x="1301.80" y="-374.65" stroke="black" stroke-width="0.12" textLength="44.00" lengthAdjust="spacingAndGlyphs">38114</text>
</g>
<g id="node86" class="node">
<ellipse fill="pink" stroke="pink" cx="1303.3" cy="-18" rx="40.09" ry="18"/>
<text text-anchor="middle" x="1302.80" y="-14.65" stroke="black" stroke-width="0.12" textLength="44.00" lengthAdjust="spacingAndGlyphs">39290</text>
</g>
<g id="edge131" class="edge">
<path fill="none" stroke="black" d="M1303.3,-71.7C1303.3,-63.98 1303.3,-54.71 1303.3,-46.11"/>
<polygon fill="black" stroke="black" points="1306.8,-46.1 1303.3,-36.1 1299.8,-46.1 1306.8,-46.1"/>
</g>
<g id="node65" class="node">
<ellipse fill="lightgray" stroke="lightgray" cx="2214.3" cy="-1746" rx="34.39" ry="18"/>
<text text-anchor="middle" x="2213.80" y="-1742.65" stroke="black" stroke-width="0.12" textLength="35.20" lengthAdjust="spacingAndGlyphs">7534</text>
</g>
<g id="edge8" class="edge">
<path fill="none" stroke="black" d="M2195.48,-1730.83C2181.86,-1720.59 2163.27,-1706.59 2148.11,-1695.18"/>
<polygon fill="black" stroke="black" points="2150.18,-1692.36 2140.09,-1689.14 2145.97,-1697.95 2150.18,-1692.36"/>
</g>
<g id="node66" class="node">
<ellipse fill="skyblue" stroke="skyblue" cx="2329.3" cy="-378" rx="40.09" ry="18"/>
<text text-anchor="middle" x="2328.80" y="-374.65" stroke="black" stroke-width="0.12" textLength="44.00" lengthAdjust="spacingAndGlyphs">33729</text>
</g>
<g id="edge95" class="edge">
<path fill="none" stroke="black" d="M2329.3,-359.7C2329.3,-351.98 2329.3,-342.71 2329.3,-334.11"/>
<polygon fill="black" stroke="black" points="2332.8,-334.1 2329.3,-324.1 2325.8,-334.1 2332.8,-334.1"/>
</g>
<g id="node67" class="node">
<ellipse fill="pink" stroke="pink" cx="1402.3" cy="-90" rx="40.09" ry="18"/>
<text text-anchor="middle" x="1401.80" y="-86.65" stroke="black" stroke-width="0.12" textLength="44.00" lengthAdjust="spacingAndGlyphs">38103</text>
</g>
<g id="node68" class="node">
<ellipse fill="brown" stroke="brown" cx="139.3" cy="-378" rx="40.09" ry="18"/>
<text text-anchor="middle" x="138.80" y="-374.65" stroke="black" stroke-width="0.12" textLength="44.00" lengthAdjust="spacingAndGlyphs">38295</text>
</g>
<g id="edge84" class="edge">
<path fill="none" stroke="black" d="M139.3,-359.7C139.3,-351.98 139.3,-342.71 139.3,-334.11"/>
<polygon fill="black" stroke="black" points="142.8,-334.1 139.3,-324.1 135.8,-334.1 142.8,-334.1"/>
</g>
<g id="edge14" class="edge">
<path fill="none" stroke="black" d="M2022.3,-1511.7C2022.3,-1503.98 2022.3,-1494.71 2022.3,-1486.11"/>
<polygon fill="black" stroke="black" points="2025.8,-1486.1 2022.3,-1476.1 2018.8,-1486.1 2025.8,-1486.1"/>
</g>
<g id="edge32" class="edge">
<path fill="none" stroke="black" d="M1805.21,-1086.4C1811.52,-1084.26 1818.12,-1082.04 1824.3,-1080 1866.11,-1066.18 1914.04,-1050.84 1947.43,-1040.23"/>
<polygon fill="black" stroke="black" points="1948.83,-1043.46 1957.3,-1037.1 1946.71,-1036.79 1948.83,-1043.46"/>
</g>
<g id="node71" class="node">
<ellipse fill="lightgray" stroke="lightgray" cx="1627.3" cy="-954" rx="40.09" ry="18"/>
<text text-anchor="middle" x="1626.80" y="-950.65" stroke="black" stroke-width="0.12" textLength="44.00" lengthAdjust="spacingAndGlyphs">29523</text>
</g>
<g id="edge44" class="edge">
<path fill="none" stroke="black" d="M1657.48,-941.92C1663.97,-939.77 1670.82,-937.67 1677.3,-936 1763.37,-913.8 1865.9,-897.68 1924.91,-889.38"/>
<polygon fill="black" stroke="black" points="1925.63,-892.81 1935.05,-887.97 1924.67,-885.88 1925.63,-892.81"/>
</g>
<g id="edge121" class="edge">
<path fill="none" stroke="black" d="M1408.13,-227.54C1462.13,-219.35 1564.2,-202.43 1649.3,-180 1652.63,-179.12 1656.07,-178.13 1659.51,-177.09"/>
<polygon fill="black" stroke="black" points="1660.63,-180.4 1669.1,-174.03 1658.51,-173.73 1660.63,-180.4"/>
</g>
<g id="edge119" class="edge">
<path fill="none" stroke="black" d="M1395.24,-219.67C1415.73,-208.72 1444.95,-193.11 1467.53,-181.05"/>
<polygon fill="black" stroke="black" points="1469.27,-184.08 1476.44,-176.28 1465.97,-177.91 1469.27,-184.08"/>
</g>
<g id="edge117" class="edge">
<path fill="none" stroke="black" d="M1355.09,-217.12C1346.36,-207.99 1335.22,-196.36 1325.52,-186.22"/>
<polygon fill="black" stroke="black" points="1327.88,-183.63 1318.44,-178.82 1322.83,-188.47 1327.88,-183.63"/>
</g>
<g id="edge115" class="edge">
<path fill="none" stroke="black" d="M1334.67,-225.21C1291.81,-215.6 1217.84,-198.3 1155.3,-180 1152.13,-179.07 1148.86,-178.07 1145.59,-177.03"/>
<polygon fill="black" stroke="black" points="1146.43,-173.62 1135.84,-173.85 1144.26,-180.28 1146.43,-173.62"/>
</g>
<g id="edge116" class="edge">
<path fill="none" stroke="black" d="M1341.76,-220.97C1314.16,-209.33 1272.16,-191.62 1241.86,-178.84"/>
<polygon fill="black" stroke="black" points="1243.03,-175.54 1232.46,-174.88 1240.31,-181.99 1243.03,-175.54"/>
</g>
<g id="node77" class="node">
<ellipse fill="#ee6363" stroke="#ee6363" cx="1402.3" cy="-162" rx="40.09" ry="18"/>
<text text-anchor="middle" x="1401.80" y="-158.65" stroke="black" stroke-width="0.12" textLength="44.00" lengthAdjust="spacingAndGlyphs">30221</text>
</g>
<g id="edge118" class="edge">
<path fill="none" stroke="black" d="M1378.04,-216.05C1381.74,-207.97 1386.24,-198.12 1390.36,-189.11"/>
<polygon fill="black" stroke="black" points="1393.65,-190.34 1394.62,-179.79 1387.28,-187.43 1393.65,-190.34"/>
</g>
<g id="node87" class="node">
<ellipse fill="skyblue" stroke="skyblue" cx="1600.3" cy="-162" rx="40.09" ry="18"/>
<text text-anchor="middle" x="1599.80" y="-158.65" stroke="black" stroke-width="0.12" textLength="44.00" lengthAdjust="spacingAndGlyphs">39083</text>
</g>
<g id="edge120" class="edge">
<path fill="none" stroke="black" d="M1403.6,-223.64C1439.82,-213.36 1499.37,-196.15 1550.3,-180 1553.4,-179.02 1556.6,-177.98 1559.82,-176.92"/>
<polygon fill="black" stroke="black" points="1561.04,-180.2 1569.42,-173.72 1558.83,-173.56 1561.04,-180.2"/>
</g>
<g id="node73" class="node">
<ellipse fill="lightgray" stroke="lightgray" cx="1438.3" cy="-378" rx="40.09" ry="18"/>
<text text-anchor="middle" x="1437.80" y="-374.65" stroke="black" stroke-width="0.12" textLength="44.00" lengthAdjust="spacingAndGlyphs">38436</text>
</g>
<g id="edge92" class="edge">
<path fill="none" stroke="black" d="M1468.47,-365.87C1474.95,-363.72 1481.81,-361.64 1488.3,-360 1745.57,-295.04 2061.7,-254.47 2181.33,-240.48"/>
<polygon fill="black" stroke="black" points="2182.09,-243.92 2191.62,-239.29 2181.28,-236.96 2182.09,-243.92"/>
</g>
<g id="edge93" class="edge">
<path fill="none" stroke="black" d="M1467.83,-365.57C1474.47,-363.39 1481.56,-361.36 1488.3,-360 1555.66,-346.38 2023.99,-318.77 2179.92,-309.85"/>
<polygon fill="black" stroke="black" points="2180.38,-313.33 2190.17,-309.26 2179.98,-306.34 2180.38,-313.33"/>
</g>
<g id="node78" class="node">
<ellipse fill="greenyellow" stroke="greenyellow" cx="1537.3" cy="-306" rx="40.09" ry="18"/>
<text text-anchor="middle" x="1536.80" y="-302.65" stroke="black" stroke-width="0.12" textLength="44.00" lengthAdjust="spacingAndGlyphs">38906</text>
</g>
<g id="edge91" class="edge">
<path fill="none" stroke="black" d="M1458.81,-362.5C1473.05,-352.43 1492.23,-338.86 1508.07,-327.67"/>
<polygon fill="black" stroke="black" points="1510.32,-330.36 1516.47,-321.73 1506.28,-324.64 1510.32,-330.36"/>
</g>
<g id="node104" class="node">
<ellipse fill="greenyellow" stroke="greenyellow" cx="1438.3" cy="-306" rx="40.09" ry="18"/>
<text text-anchor="middle" x="1437.80" y="-302.65" stroke="black" stroke-width="0.12" textLength="44.00" lengthAdjust="spacingAndGlyphs">38595</text>
</g>
<g id="edge90" class="edge">
<path fill="none" stroke="black" d="M1438.3,-359.7C1438.3,-351.98 1438.3,-342.71 1438.3,-334.11"/>
<polygon fill="black" stroke="black" points="1441.8,-334.1 1438.3,-324.1 1434.8,-334.1 1441.8,-334.1"/>
</g>
<g id="node99" class="node">
<ellipse fill="lightgray" stroke="lightgray" cx="2122.3" cy="-954" rx="40.09" ry="18"/>
<text text-anchor="middle" x="2121.80" y="-950.65" stroke="black" stroke-width="0.12" textLength="44.00" lengthAdjust="spacingAndGlyphs">34226</text>
</g>
<g id="edge43" class="edge">
<path fill="none" stroke="black" d="M2242.68,-1012.32C2219.1,-1001.09 2184.47,-984.61 2158.4,-972.19"/>
<polygon fill="black" stroke="black" points="2159.75,-968.96 2149.22,-967.82 2156.74,-975.28 2159.75,-968.96"/>
</g>
<g id="edge46" class="edge">
<path fill="none" stroke="black" d="M1852.1,-940.32C1875.99,-929.02 1911.14,-912.4 1937.44,-899.96"/>
<polygon fill="black" stroke="black" points="1939.15,-903.02 1946.69,-895.58 1936.16,-896.69 1939.15,-903.02"/>
</g>
<g id="node76" class="node">
<ellipse fill="greenyellow" stroke="greenyellow" cx="671.3" cy="-378" rx="40.09" ry="18"/>
<text text-anchor="middle" x="670.80" y="-374.65" stroke="black" stroke-width="0.12" textLength="44.00" lengthAdjust="spacingAndGlyphs">38958</text>
</g>
<g id="edge129" class="edge">
<path fill="none" stroke="black" d="M1402.3,-143.7C1402.3,-135.98 1402.3,-126.71 1402.3,-118.11"/>
<polygon fill="black" stroke="black" points="1405.8,-118.1 1402.3,-108.1 1398.8,-118.1 1405.8,-118.1"/>
</g>
<g id="node79" class="node">
<ellipse fill="slategray" stroke="slategray" cx="473.3" cy="-378" rx="40.09" ry="18"/>
<text text-anchor="middle" x="472.80" y="-374.65" stroke="black" stroke-width="0.12" textLength="44.00" lengthAdjust="spacingAndGlyphs">38388</text>
</g>
<g id="node80" class="node">
<ellipse fill="lightgray" stroke="lightgray" cx="2121.3" cy="-1602" rx="40.09" ry="18"/>
<text text-anchor="middle" x="2120.80" y="-1598.65" stroke="black" stroke-width="0.12" textLength="44.00" lengthAdjust="spacingAndGlyphs">22688</text>
</g>
<g id="edge13" class="edge">
<path fill="none" stroke="black" d="M2100.78,-1586.5C2086.54,-1576.43 2067.36,-1562.86 2051.52,-1551.67"/>
<polygon fill="black" stroke="black" points="2053.31,-1548.64 2043.12,-1545.73 2049.27,-1554.36 2053.31,-1548.64"/>
</g>
<g id="node81" class="node">
<ellipse fill="lightgray" stroke="lightgray" cx="1873.3" cy="-1098" rx="40.09" ry="18"/>
<text text-anchor="middle" x="1872.80" y="-1094.65" stroke="black" stroke-width="0.12" textLength="44.00" lengthAdjust="spacingAndGlyphs">31087</text>
</g>
<g id="edge33" class="edge">
<path fill="none" stroke="black" d="M1896.21,-1083.17C1913.66,-1072.64 1937.88,-1058.03 1957.24,-1046.34"/>
<polygon fill="black" stroke="black" points="1959.28,-1049.2 1966.03,-1041.04 1955.66,-1043.21 1959.28,-1049.2"/>
</g>
<g id="node82" class="node">
<ellipse fill="lightgray" stroke="lightgray" cx="1923.3" cy="-1602" rx="40.09" ry="18"/>
<text text-anchor="middle" x="1922.80" y="-1598.65" stroke="black" stroke-width="0.12" textLength="44.00" lengthAdjust="spacingAndGlyphs">15496</text>
</g>
<g id="edge11" class="edge">
<path fill="none" stroke="black" d="M1943.81,-1586.5C1958.05,-1576.43 1977.23,-1562.86 1993.07,-1551.67"/>
<polygon fill="black" stroke="black" points="1995.32,-1554.36 2001.47,-1545.73 1991.28,-1548.64 1995.32,-1554.36"/>
</g>
<g id="node83" class="node">
<ellipse fill="lightgray" stroke="lightgray" cx="1842.3" cy="-1026" rx="40.09" ry="18"/>
<text text-anchor="middle" x="1841.80" y="-1022.65" stroke="black" stroke-width="0.12" textLength="44.00" lengthAdjust="spacingAndGlyphs">33496</text>
</g>
<g id="edge41" class="edge">
<path fill="none" stroke="black" d="M1838.18,-1008.05C1836.29,-1000.26 1834,-990.82 1831.87,-982.08"/>
<polygon fill="black" stroke="black" points="1835.25,-981.17 1829.49,-972.28 1828.45,-982.82 1835.25,-981.17"/>
</g>
<g id="node84" class="node">
<ellipse fill="lightgray" stroke="lightgray" cx="2368.3" cy="-1098" rx="40.09" ry="18"/>
<text text-anchor="middle" x="2367.80" y="-1094.65" stroke="black" stroke-width="0.12" textLength="44.00" lengthAdjust="spacingAndGlyphs">26635</text>
</g>
<g id="edge39" class="edge">
<path fill="none" stroke="black" d="M2368.3,-1079.7C2368.3,-1071.98 2368.3,-1062.71 2368.3,-1054.11"/>
<polygon fill="black" stroke="black" points="2371.8,-1054.1 2368.3,-1044.1 2364.8,-1054.1 2371.8,-1054.1"/>
</g>
<g id="edge38" class="edge">
<path fill="none" stroke="black" d="M2347.78,-1082.5C2333.54,-1072.43 2314.36,-1058.86 2298.52,-1047.67"/>
<polygon fill="black" stroke="black" points="2300.31,-1044.64 2290.12,-1041.73 2296.27,-1050.36 2300.31,-1044.64"/>
</g>
<g id="edge10" class="edge">
<path fill="none" stroke="black" d="M2121.3,-1655.7C2121.3,-1647.98 2121.3,-1638.71 2121.3,-1630.11"/>
<polygon fill="black" stroke="black" points="2124.8,-1630.1 2121.3,-1620.1 2117.8,-1630.1 2124.8,-1630.1"/>
</g>
<g id="edge74" class="edge">
<path fill="none" stroke="black" d="M1231.38,-442.55C1208.89,-438.87 1179.52,-434.5 1153.3,-432 1107.46,-427.63 357.14,-429.26 325.3,-396 314.23,-384.44 316.39,-373.29 325.3,-360 343.2,-333.28 377.26,-320.02 405.89,-313.45"/>
<polygon fill="black" stroke="black" points="406.67,-316.86 415.75,-311.39 405.24,-310.01 406.67,-316.86"/>
</g>
<g id="edge83" class="edge">
<path fill="none" stroke="black" d="M1247.16,-434.5C1232.39,-424.36 1212.46,-410.68 1196.08,-399.44"/>
<polygon fill="black" stroke="black" points="1197.63,-396.26 1187.4,-393.49 1193.67,-402.03 1197.63,-396.26"/>
</g>
<g id="edge111" class="edge">
<path fill="none" stroke="black" d="M1305,-442.43C1326.81,-438.77 1355.05,-434.48 1380.3,-432 1734.51,-397.25 1830.54,-461.94 2180.3,-396 2183.93,-395.31 2187.67,-394.42 2191.38,-393.41"/>
<polygon fill="black" stroke="black" points="2192.5,-396.72 2201.06,-390.48 2190.47,-390.02 2192.5,-396.72"/>
</g>
<g id="edge71" class="edge">
<path fill="none" stroke="black" d="M1231.65,-442.5C1209.12,-438.78 1179.63,-434.38 1153.3,-432 917.9,-410.68 322.8,-438.5 90.3,-396 86.65,-395.33 82.92,-394.46 79.21,-393.45"/>
<polygon fill="black" stroke="black" points="80.11,-390.07 69.53,-390.54 78.09,-396.77 80.11,-390.07"/>
</g>
<g id="edge108" class="edge">
<path fill="none" stroke="black" d="M1305.28,-442.63C1327.06,-439.07 1355.18,-434.8 1380.3,-432 1603.04,-407.16 1663.62,-440.44 1883.3,-396 1886.77,-395.3 1890.34,-394.42 1893.89,-393.43"/>
<polygon fill="black" stroke="black" points="1895.21,-396.69 1903.76,-390.43 1893.18,-389.99 1895.21,-396.69"/>
</g>
<g id="edge79" class="edge">
<path fill="none" stroke="black" d="M1231.06,-443.12C1208.57,-439.66 1179.32,-435.33 1153.3,-432 1005.64,-413.11 965.64,-428.15 820.3,-396 816.83,-395.23 813.28,-394.31 809.73,-393.3"/>
<polygon fill="black" stroke="black" points="810.45,-389.86 799.87,-390.25 808.39,-396.55 810.45,-389.86"/>
</g>
<g id="edge82" class="edge">
<path fill="none" stroke="black" d="M1237.33,-438.22C1202.56,-426.11 1146,-406.41 1107.75,-393.09"/>
<polygon fill="black" stroke="black" points="1108.56,-389.67 1097.97,-389.68 1106.26,-396.28 1108.56,-389.67"/>
</g>
<g id="edge104" class="edge">
<path fill="none" stroke="black" d="M1303.83,-441.44C1347.37,-431.93 1423.25,-414.6 1487.3,-396 1490.47,-395.08 1493.73,-394.08 1497.01,-393.05"/>
<polygon fill="black" stroke="black" points="1498.34,-396.29 1506.76,-389.87 1496.17,-389.64 1498.34,-396.29"/>
</g>
<g id="edge75" class="edge">
<path fill="none" stroke="black" d="M1231.38,-442.61C1208.88,-438.95 1179.51,-434.58 1153.3,-432 830.46,-400.24 742.94,-456.8 424.3,-396 420.66,-395.31 416.93,-394.41 413.22,-393.39"/>
<polygon fill="black" stroke="black" points="414.13,-390.01 403.54,-390.46 412.1,-396.71 414.13,-390.01"/>
</g>
<g id="edge81" class="edge">
<path fill="none" stroke="black" d="M1231.53,-442.62C1182.5,-433.79 1093.16,-416.58 1018.3,-396 1014.97,-395.09 1011.54,-394.07 1008.11,-393.01"/>
<polygon fill="black" stroke="black" points="1009.12,-389.66 998.52,-389.92 1006.97,-396.32 1009.12,-389.66"/>
</g>
<g id="edge80" class="edge">
<path fill="none" stroke="black" d="M1230.59,-443.36C1141.88,-430.09 926.85,-397.84 919.3,-396 915.9,-395.17 912.4,-394.21 908.91,-393.18"/>
<polygon fill="black" stroke="black" points="909.77,-389.78 899.18,-390.12 907.67,-396.46 909.77,-389.78"/>
</g>
<g id="edge88" class="edge">
<path fill="none" stroke="black" d="M1261.73,-431.9C1253.47,-412.33 1237.62,-380.36 1215.3,-360 1195.58,-342.01 1168.65,-328.95 1146.25,-320.3"/>
<polygon fill="black" stroke="black" points="1147.24,-316.93 1136.65,-316.74 1144.81,-323.5 1147.24,-316.93"/>
</g>
<g id="edge89" class="edge">
<path fill="none" stroke="black" d="M1276.53,-432.05C1280.49,-423.89 1285.34,-413.91 1289.75,-404.82"/>
<polygon fill="black" stroke="black" points="1292.92,-406.31 1294.14,-395.79 1286.62,-403.25 1292.92,-406.31"/>
</g>
<g id="edge112" class="edge">
<path fill="none" stroke="black" d="M1304.99,-442.38C1326.8,-438.71 1355.04,-434.41 1380.3,-432 1778.36,-393.94 1886.16,-469.12 2279.3,-396 2282.94,-395.32 2286.67,-394.44 2290.38,-393.42"/>
<polygon fill="black" stroke="black" points="2291.5,-396.74 2300.06,-390.51 2289.48,-390.04 2291.5,-396.74"/>
</g>
<g id="edge72" class="edge">
<path fill="none" stroke="black" d="M1231.39,-442.49C1208.89,-438.79 1179.52,-434.42 1153.3,-432 726.37,-392.59 610.92,-473.83 189.3,-396 185.66,-395.33 181.92,-394.45 178.21,-393.43"/>
<polygon fill="black" stroke="black" points="179.11,-390.05 168.53,-390.52 177.1,-396.75 179.11,-390.05"/>
</g>
<g id="edge102" class="edge">
<path fill="none" stroke="black" d="M1298.18,-437.78C1316.63,-429.22 1339.04,-415.56 1351.3,-396 1377.06,-354.9 1376.75,-296.17 1373.79,-262.17"/>
<polygon fill="black" stroke="black" points="1377.26,-261.66 1372.77,-252.06 1370.29,-262.36 1377.26,-261.66"/>
</g>
<g id="edge103" class="edge">
<path fill="none" stroke="black" d="M1297.13,-437.13C1325.55,-425.42 1369.12,-407.48 1400.34,-394.63"/>
<polygon fill="black" stroke="black" points="1401.69,-397.86 1409.6,-390.82 1399.02,-391.39 1401.69,-397.86"/>
</g>
<g id="edge78" class="edge">
<path fill="none" stroke="black" d="M1231.09,-442.89C1208.61,-439.35 1179.36,-435.01 1153.3,-432 961.9,-409.9 909.91,-435.3 721.3,-396 717.83,-395.28 714.26,-394.38 710.71,-393.39"/>
<polygon fill="black" stroke="black" points="711.43,-389.95 700.84,-390.37 709.38,-396.64 711.43,-389.95"/>
</g>
<g id="edge76" class="edge">
<path fill="none" stroke="black" d="M1231.37,-442.68C1208.87,-439.05 1179.5,-434.68 1153.3,-432 874.3,-403.46 798.58,-449.63 523.3,-396 519.66,-395.29 515.93,-394.38 512.22,-393.36"/>
<polygon fill="black" stroke="black" points="513.13,-389.98 502.55,-390.42 511.1,-396.67 513.13,-389.98"/>
</g>
<g id="node90" class="node">
<ellipse fill="lightgray" stroke="lightgray" cx="2032.3" cy="-378" rx="40.09" ry="18"/>
<text text-anchor="middle" x="2031.80" y="-374.65" stroke="black" stroke-width="0.12" textLength="44.00" lengthAdjust="spacingAndGlyphs">39814</text>
</g>
<g id="edge109" class="edge">
<path fill="none" stroke="black" d="M1305.01,-442.57C1326.82,-438.96 1355.07,-434.66 1380.3,-432 1646.85,-403.86 1719.28,-447.6 1982.3,-396 1985.93,-395.29 1989.66,-394.38 1993.37,-393.35"/>
<polygon fill="black" stroke="black" points="1994.49,-396.66 2003.04,-390.41 1992.46,-389.97 1994.49,-396.66"/>
</g>
<g id="node91" class="node">
<ellipse fill="#ee6363" stroke="#ee6363" cx="572.3" cy="-378" rx="40.09" ry="18"/>
<text text-anchor="middle" x="571.80" y="-374.65" stroke="black" stroke-width="0.12" textLength="44.00" lengthAdjust="spacingAndGlyphs">40816</text>
</g>
<g id="edge77" class="edge">
<path fill="none" stroke="black" d="M1231.36,-442.78C1208.86,-439.18 1179.48,-434.82 1153.3,-432 918.11,-406.68 854.23,-442.46 622.3,-396 618.82,-395.3 615.25,-394.43 611.7,-393.45"/>
<polygon fill="black" stroke="black" points="612.41,-390.01 601.82,-390.45 610.38,-396.7 612.41,-390.01"/>
</g>
<g id="node98" class="node">
<ellipse fill="lightgray" stroke="lightgray" cx="1636.3" cy="-378" rx="40.09" ry="18"/>
<text text-anchor="middle" x="1635.80" y="-374.65" stroke="black" stroke-width="0.12" textLength="44.00" lengthAdjust="spacingAndGlyphs">38461</text>
</g>
<g id="edge105" class="edge">
<path fill="none" stroke="black" d="M1305.73,-443.11C1383.89,-430.77 1559.43,-402.76 1586.3,-396 1589.64,-395.16 1593.09,-394.2 1596.53,-393.17"/>
<polygon fill="black" stroke="black" points="1597.64,-396.49 1606.13,-390.14 1595.54,-389.81 1597.64,-396.49"/>
</g>
<g id="node107" class="node">
<ellipse fill="lightgray" stroke="lightgray" cx="1834.3" cy="-378" rx="40.09" ry="18"/>
<text text-anchor="middle" x="1833.80" y="-374.65" stroke="black" stroke-width="0.12" textLength="44.00" lengthAdjust="spacingAndGlyphs">38543</text>
</g>
<g id="edge107" class="edge">
<path fill="none" stroke="black" d="M1305.3,-442.8C1327.08,-439.29 1355.21,-435.02 1380.3,-432 1559.27,-410.46 1607.93,-433.28 1784.3,-396 1787.77,-395.27 1791.33,-394.37 1794.87,-393.37"/>
<polygon fill="black" stroke="black" points="1796.21,-396.62 1804.75,-390.34 1794.16,-389.93 1796.21,-396.62"/>
</g>
<g id="node113" class="node">
<ellipse fill="slategray" stroke="slategray" cx="2131.3" cy="-378" rx="40.09" ry="18"/>
<text text-anchor="middle" x="2130.80" y="-374.65" stroke="black" stroke-width="0.12" textLength="44.00" lengthAdjust="spacingAndGlyphs">30113</text>
</g>
<g id="edge110" class="edge">
<path fill="none" stroke="black" d="M1305,-442.49C1326.81,-438.85 1355.06,-434.56 1380.3,-432 1690.67,-400.55 1774.92,-454.77 2081.3,-396 2084.93,-395.3 2088.66,-394.4 2092.37,-393.38"/>
<polygon fill="black" stroke="black" points="2093.49,-396.7 2102.05,-390.45 2091.46,-390 2093.49,-396.7"/>
</g>
<g id="node115" class="node">
<ellipse fill="slategray" stroke="slategray" cx="238.3" cy="-378" rx="40.09" ry="18"/>
<text text-anchor="middle" x="237.80" y="-374.65" stroke="black" stroke-width="0.12" textLength="44.00" lengthAdjust="spacingAndGlyphs">38310</text>
</g>
<g id="edge73" class="edge">
<path fill="none" stroke="black" d="M1231.39,-442.54C1208.89,-438.85 1179.52,-434.48 1153.3,-432 772,-395.95 669.55,-462.08 292.3,-396 287.76,-395.21 283.08,-394.13 278.46,-392.91"/>
<polygon fill="black" stroke="black" points="279.08,-389.45 268.51,-390.05 277.15,-396.18 279.08,-389.45"/>
</g>
<g id="node117" class="node">
<ellipse fill="lightgray" stroke="lightgray" cx="1735.3" cy="-378" rx="40.09" ry="18"/>
<text text-anchor="middle" x="1734.80" y="-374.65" stroke="black" stroke-width="0.12" textLength="44.00" lengthAdjust="spacingAndGlyphs">38484</text>
</g>
<g id="edge106" class="edge">
<path fill="none" stroke="black" d="M1305.59,-443.02C1327.35,-439.61 1355.35,-435.36 1380.3,-432 1515.57,-413.76 1552.17,-426.14 1685.3,-396 1688.71,-395.23 1692.21,-394.31 1695.71,-393.3"/>
<polygon fill="black" stroke="black" points="1696.93,-396.59 1705.45,-390.29 1694.86,-389.9 1696.93,-396.59"/>
</g>
<g id="edge19" class="edge">
<path fill="none" stroke="black" d="M2010.45,-1368.41C2004.34,-1359.87 1996.78,-1349.28 1990,-1339.79"/>
<polygon fill="black" stroke="black" points="1992.72,-1337.57 1984.06,-1331.47 1987.03,-1341.64 1992.72,-1337.57"/>
</g>
<g id="edge86" class="edge">
<path fill="none" stroke="black" d="M548.98,-363.17C531.04,-352.53 506.05,-337.7 486.25,-325.96"/>
<polygon fill="black" stroke="black" points="487.95,-322.89 477.56,-320.8 484.38,-328.91 487.95,-322.89"/>
</g>
<g id="node93" class="node">
<ellipse fill="lightgray" stroke="lightgray" cx="2368.3" cy="-1170" rx="40.09" ry="18"/>
<text text-anchor="middle" x="2367.80" y="-1166.65" stroke="black" stroke-width="0.12" textLength="44.00" lengthAdjust="spacingAndGlyphs">26636</text>
</g>
<g id="edge29" class="edge">
<path fill="none" stroke="black" d="M2368.3,-1151.7C2368.3,-1143.98 2368.3,-1134.71 2368.3,-1126.11"/>
<polygon fill="black" stroke="black" points="2371.8,-1126.1 2368.3,-1116.1 2364.8,-1126.1 2371.8,-1126.1"/>
</g>
<g id="node94" class="node">
<ellipse fill="lightgray" stroke="lightgray" cx="2022.3" cy="-1746" rx="40.09" ry="18"/>
<text text-anchor="middle" x="2021.80" y="-1742.65" stroke="black" stroke-width="0.12" textLength="44.00" lengthAdjust="spacingAndGlyphs">22847</text>
</g>
<g id="edge6" class="edge">
<path fill="none" stroke="black" d="M2022.3,-1727.7C2022.3,-1719.98 2022.3,-1710.71 2022.3,-1702.11"/>
<polygon fill="black" stroke="black" points="2025.8,-1702.1 2022.3,-1692.1 2018.8,-1702.1 2025.8,-1702.1"/>
</g>
<g id="node95" class="node">
<ellipse fill="lightgray" stroke="lightgray" cx="1675.3" cy="-1242" rx="40.09" ry="18"/>
<text text-anchor="middle" x="1674.80" y="-1238.65" stroke="black" stroke-width="0.12" textLength="44.00" lengthAdjust="spacingAndGlyphs">20256</text>
</g>
<g id="edge21" class="edge">
<path fill="none" stroke="black" d="M1675.3,-1223.7C1675.3,-1215.98 1675.3,-1206.71 1675.3,-1198.11"/>
<polygon fill="black" stroke="black" points="1678.8,-1198.1 1675.3,-1188.1 1671.8,-1198.1 1678.8,-1198.1"/>
</g>
<g id="edge65" class="edge">
<path fill="none" stroke="black" d="M1335.07,-576.05C1331.1,-567.89 1326.25,-557.91 1321.84,-548.82"/>
<polygon fill="black" stroke="black" points="1324.97,-547.25 1317.45,-539.79 1318.67,-550.31 1324.97,-547.25"/>
</g>
<g id="edge49" class="edge">
<path fill="none" stroke="black" d="M2095.66,-940.49C2071.58,-929.17 2035.93,-912.42 2009.31,-899.92"/>
<polygon fill="black" stroke="black" points="2010.49,-896.61 1999.95,-895.52 2007.52,-902.94 2010.49,-896.61"/>
</g>
<g id="node100" class="node">
<ellipse fill="lightgray" stroke="lightgray" cx="2170.3" cy="-1098" rx="40.09" ry="18"/>
<text text-anchor="middle" x="2169.80" y="-1094.65" stroke="black" stroke-width="0.12" textLength="44.00" lengthAdjust="spacingAndGlyphs">29575</text>
</g>
<g id="edge36" class="edge">
<path fill="none" stroke="black" d="M2140.81,-1085.6C2110.18,-1073.75 2062.09,-1055.15 2028.32,-1042.09"/>
<polygon fill="black" stroke="black" points="2029.36,-1038.74 2018.77,-1038.4 2026.83,-1045.27 2029.36,-1038.74"/>
</g>
<g id="node101" class="node">
<ellipse fill="lightgray" stroke="lightgray" cx="2022.3" cy="-1818" rx="40.09" ry="18"/>
<text text-anchor="middle" x="2021.80" y="-1814.65" stroke="black" stroke-width="0.12" textLength="44.00" lengthAdjust="spacingAndGlyphs">18925</text>
</g>
<g id="edge5" class="edge">
<path fill="none" stroke="black" d="M2022.3,-1799.7C2022.3,-1791.98 2022.3,-1782.71 2022.3,-1774.11"/>
<polygon fill="black" stroke="black" points="2025.8,-1774.1 2022.3,-1764.1 2018.8,-1774.1 2025.8,-1774.1"/>
</g>
<g id="node103" class="node">
<ellipse fill="lightgray" stroke="lightgray" cx="1873.3" cy="-1170" rx="40.09" ry="18"/>
<text text-anchor="middle" x="1872.80" y="-1166.65" stroke="black" stroke-width="0.12" textLength="44.00" lengthAdjust="spacingAndGlyphs">24254</text>
</g>
<g id="edge26" class="edge">
<path fill="none" stroke="black" d="M1893.81,-1154.5C1908.05,-1144.43 1927.23,-1130.86 1943.07,-1119.67"/>
<polygon fill="black" stroke="black" points="1945.32,-1122.36 1951.47,-1113.73 1941.28,-1116.64 1945.32,-1122.36"/>
</g>
<g id="node105" class="node">
<ellipse fill="pink" stroke="pink" cx="238.3" cy="-306" rx="40.09" ry="18"/>
<text text-anchor="middle" x="237.80" y="-302.65" stroke="black" stroke-width="0.12" textLength="44.00" lengthAdjust="spacingAndGlyphs">41023</text>
</g>
<g id="node106" class="node">
<ellipse fill="lightgray" stroke="lightgray" cx="2022.3" cy="-1890" rx="40.09" ry="18"/>
<text text-anchor="middle" x="2021.80" y="-1886.65" stroke="black" stroke-width="0.12" textLength="44.00" lengthAdjust="spacingAndGlyphs">18887</text>
</g>
<g id="edge4" class="edge">
<path fill="none" stroke="black" d="M2022.3,-1871.7C2022.3,-1863.98 2022.3,-1854.71 2022.3,-1846.11"/>
<polygon fill="black" stroke="black" points="2025.8,-1846.1 2022.3,-1836.1 2018.8,-1846.1 2025.8,-1846.1"/>
</g>
<g id="edge3" class="edge">
<path fill="none" stroke="black" d="M2022.3,-1943.7C2022.3,-1935.98 2022.3,-1926.71 2022.3,-1918.11"/>
<polygon fill="black" stroke="black" points="2025.8,-1918.1 2022.3,-1908.1 2018.8,-1918.1 2025.8,-1918.1"/>
</g>
<g id="node110" class="node">
<ellipse fill="lightgray" stroke="lightgray" cx="2023.3" cy="-954" rx="40.09" ry="18"/>
<text text-anchor="middle" x="2022.80" y="-950.65" stroke="black" stroke-width="0.12" textLength="44.00" lengthAdjust="spacingAndGlyphs">33817</text>
</g>
<g id="edge42" class="edge">
<path fill="none" stroke="black" d="M1997.53,-1008.05C2001.49,-999.89 2006.34,-989.91 2010.75,-980.82"/>
<polygon fill="black" stroke="black" points="2013.92,-982.31 2015.14,-971.79 2007.62,-979.25 2013.92,-982.31"/>
</g>
<g id="edge48" class="edge">
<path fill="none" stroke="black" d="M2011.45,-936.41C2005.34,-927.87 1997.78,-917.28 1991,-907.79"/>
<polygon fill="black" stroke="black" points="1993.72,-905.57 1985.06,-899.47 1988.03,-909.64 1993.72,-905.57"/>
</g>
<g id="edge85" class="edge">
<path fill="none" stroke="black" d="M238.3,-359.7C238.3,-351.98 238.3,-342.71 238.3,-334.11"/>
<polygon fill="black" stroke="black" points="241.8,-334.1 238.3,-324.1 234.8,-334.1 241.8,-334.1"/>
</g>
<g id="node116" class="node">
<ellipse fill="lightgray" stroke="lightgray" cx="2258.3" cy="-954" rx="40.09" ry="18"/>
<text text-anchor="middle" x="2257.80" y="-950.65" stroke="black" stroke-width="0.12" textLength="44.00" lengthAdjust="spacingAndGlyphs">34913</text>
</g>
<g id="edge51" class="edge">
<path fill="none" stroke="black" d="M2226.73,-942.6C2219.4,-940.31 2211.6,-937.98 2204.3,-936 2140.48,-918.66 2065.76,-902.21 2018.96,-892.36"/>
<polygon fill="black" stroke="black" points="2019.64,-888.92 2009.13,-890.3 2018.2,-895.77 2019.64,-888.92"/>
</g>
</g>
</svg>
</body></html>
